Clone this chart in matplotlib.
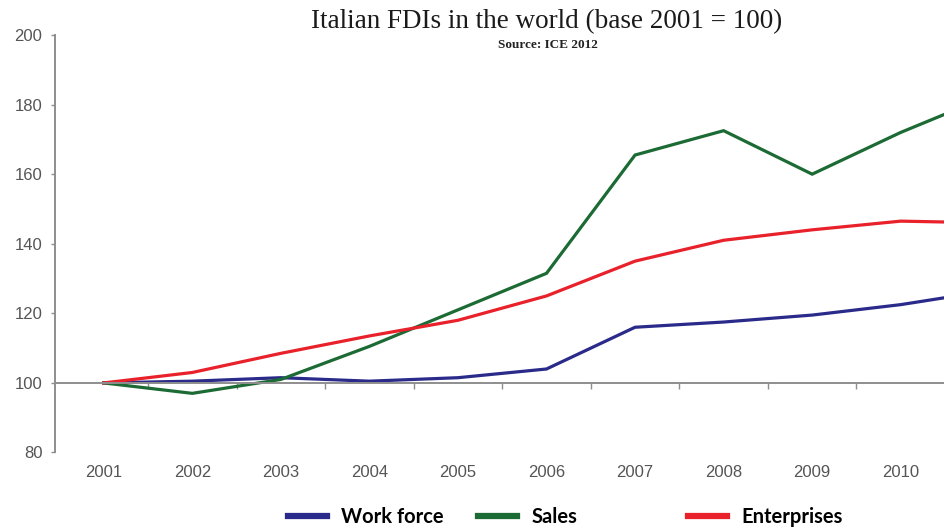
import matplotlib
matplotlib.use("Agg")
import matplotlib.pyplot as plt
from matplotlib.lines import Line2D

# Data: index values, base 2001 = 100
years = ["2001", "2002", "2003", "2004", "2005", "2006",
         "2007", "2008", "2009", "2010", "2011"]
work_force = [100, 100.5, 101.5, 100.5, 101.5, 104, 116, 117.5, 119.5, 122.5, 126.5]
sales = [100, 97, 101, 110.5, 121, 131.5, 165.5, 172.5, 160, 172, 182.5]
enterprises = [100, 103, 108.5, 113.5, 118, 125, 135, 141, 144, 146.5, 146]

series_names = ["Work force", "Sales", "Enterprises"]
series_values = [work_force, sales, enterprises]
series_colors = ["#2a2a8a", "#1c6a34", "#e8212b"]

y_ticks = [80, 100, 120, 140, 160, 180, 200]

W, H = 945, 529
fig = plt.figure(figsize=(W / 100, H / 100), dpi=100)
ax = fig.add_axes([55 / W, 1 - 452.5 / H, 1 - 55 / W, (452.5 - 35) / H])

x = list(range(len(years)))
for name, vals, col in zip(series_names, series_values, series_colors):
    ax.plot(x, vals, color=col, lw=2.3, solid_joinstyle="miter", label=name)

axis_grey = "#8e8e8e"
label_grey = "#555555"

# y axis
ax.spines["left"].set_color(axis_grey)
ax.spines["left"].set_linewidth(1.4)
ax.set_yticks(y_ticks)
ax.tick_params(axis="y", length=3, width=1, color=axis_grey,
               labelsize=12, labelcolor=label_grey, pad=6)
for t in ax.get_yticklabels():
    t.set_fontfamily("Liberation Sans")

# category axis crosses at 100, ticks between categories
ax.spines["bottom"].set_position(("data", 100))
ax.spines["bottom"].set_color(axis_grey)
ax.spines["bottom"].set_linewidth(1.4)
ax.spines["top"].set_visible(False)
ax.spines["right"].set_visible(False)
ax.set_xticks([i + 0.5 for i in x[:-1]])
ax.tick_params(axis="x", length=4, width=1, color=axis_grey, labelbottom=False)

# category labels below the plot area (the last year falls beyond the frame)
sec = ax.secondary_xaxis(0.0)
sec.set_xticks(x[:-1])
sec.set_xticklabels(years[:-1], fontfamily="Liberation Sans", fontsize=12,
                    color=label_grey)
sec.tick_params(length=0, pad=9)
sec.spines["bottom"].set_visible(False)

ax.set_xlim(-0.55, 9.5)
ax.set_ylim(80, 200)

# Titles
fig.text(547 / W, 1 - 22 / H, "Italian FDIs in the world (base 2001 = 100)",
         ha="center", va="center", fontfamily="Liberation Serif", fontsize=19.5,
         color="#1a1a1a")
fig.text(548 / W, 1 - 45 / H, "Source: ICE 2012", ha="center", va="center",
         fontfamily="Liberation Serif", fontsize=9.5, fontweight="bold",
         color="#222222")

# Legend entries along the bottom
legend_x = [288, 478, 688]
for name, col, lx in zip(series_names, series_colors, legend_x):
    handle = Line2D([], [], color=col, lw=4.5)
    fig.legend([handle], [name], loc="center left",
               bbox_to_anchor=(lx / W, 1 - 517 / H), frameon=False,
               handlelength=1.95, handletextpad=0.7, borderaxespad=0,
               borderpad=0,
               prop={"family": "Lato", "weight": "bold", "size": 14.5})

fig.savefig("out.png", dpi=100)
